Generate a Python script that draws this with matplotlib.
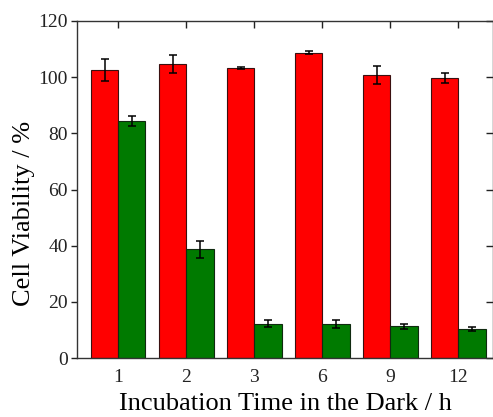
import matplotlib
matplotlib.use("Agg")
import matplotlib.pyplot as plt
import numpy as np

# Incubation times (h) and cell viability (%) with standard deviations
times = ["1", "2", "3", "6", "9", "12"]
red_vals = [102.5, 104.6, 103.3, 108.6, 100.7, 99.8]
red_err = [4.0, 3.2, 0.3, 0.5, 3.2, 1.8]
green_vals = [84.3, 38.8, 12.3, 12.3, 11.3, 10.4]
green_err = [1.8, 3.0, 1.2, 1.4, 0.8, 0.7]
y_ticks = [0, 20, 40, 60, 80, 100, 120]

plt.rcParams["font.family"] = ["Liberation Serif", "DejaVu Serif"]

fig = plt.figure(figsize=(4.93, 4.17), dpi=100)
ax = fig.add_axes([0.157, 0.141, 0.842, 0.809])

x = np.arange(len(times))
w = 0.4
ax.bar(x - w / 2, red_vals, width=w, color="#ff0000", edgecolor="#3a1010",
       linewidth=0.8, zorder=2)
ax.bar(x + w / 2, green_vals, width=w, color="#007a00", edgecolor="#102a10",
       linewidth=0.8, zorder=2)
ax.errorbar(x - w / 2, red_vals, yerr=red_err, fmt="none", ecolor="black",
            elinewidth=1.1, capsize=3.2, capthick=1.1, zorder=3)
ax.errorbar(x + w / 2, green_vals, yerr=green_err, fmt="none", ecolor="black",
            elinewidth=1.1, capsize=3.2, capthick=1.1, zorder=3)

ax.set_xlim(-0.6, 5.5)
ax.set_ylim(0, 120)
ax.set_xticks(x)
ax.set_xticklabels(times)
ax.set_yticks(y_ticks)

ax.tick_params(axis="y", which="both", left=True, right=False, direction="out",
               length=4, width=1, labelsize=14, pad=3, colors="#222222")
ax.tick_params(axis="x", which="both", bottom=True, top=True, direction="in",
               length=5, width=1, labelsize=14, pad=8, colors="#222222")
# mirrored inward ticks on the right side
ax2 = ax.secondary_yaxis("right")
ax2.set_yticks(y_ticks)
ax2.tick_params(direction="in", length=5, width=1, labelright=False, color="#222222")
ax2.spines["right"].set_visible(False)

for s in ax.spines.values():
    s.set_linewidth(1.0)
    s.set_color("#333333")

ax.set_xlabel("Incubation Time in the Dark / h", fontsize=19)
ax.set_ylabel("Cell Viability / %", fontsize=19)
ax.xaxis.set_label_coords(0.5, -0.102)
ax.yaxis.set_label_coords(-0.102, 0.43)

fig.savefig("out.png", dpi=100)
